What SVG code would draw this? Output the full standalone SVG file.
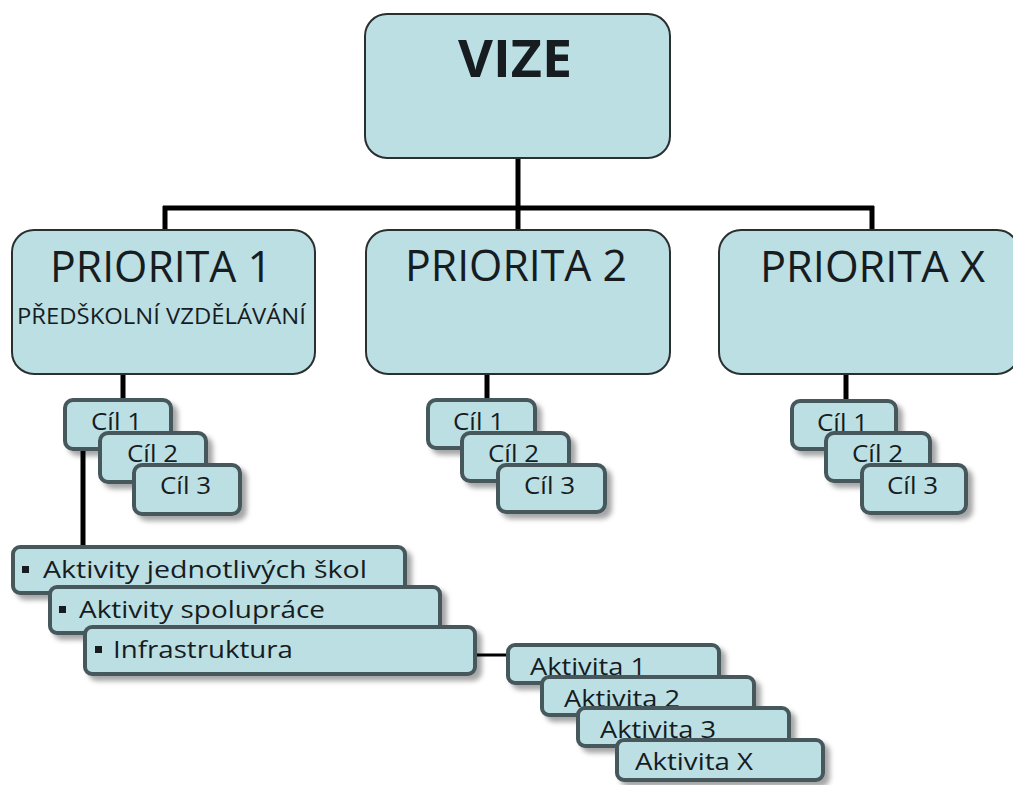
<svg xmlns="http://www.w3.org/2000/svg" width="1013" height="785" viewBox="0 0 1013 785">
<defs>
<filter id="sh" x="-20%" y="-20%" width="150%" height="160%">
<feDropShadow dx="5" dy="5" stdDeviation="2.5" flood-color="#000" flood-opacity="0.35"/>
</filter>
</defs>
<style>
.big{fill:#bcdfe4;stroke:#2a2f30;stroke-width:2}
.sm{fill:#bcdfe4;stroke:#46595d;stroke-width:4;filter:url(#sh)}
.t{font-family:"Open Sans","Liberation Sans",sans-serif;fill:#161c1f}
.ln{stroke:#000;stroke-width:5;fill:none}
.ln2{stroke:#000;stroke-width:3;fill:none}
</style>
<rect width="1013" height="785" fill="#fff"/>
<g id="connectors">
<path class="ln" d="M518 158V208M163 208H874M165 206V231M518 206V231M872 206V231"/>
<path class="ln" d="M123 374V401M487 374V401M846 374V402"/>
<path class="ln" d="M83 449V548"/>
<path class="ln2" d="M475 655H510"/>
</g>
<g id="vize">
<rect class="big" x="365" y="14" width="305" height="144" rx="22"/>
<text class="t" x="458" y="77" font-size="52" font-weight="bold" textLength="114" lengthAdjust="spacingAndGlyphs">VIZE</text>
</g>
<g id="priorita1">
<rect class="big" x="12" y="230" width="303" height="144" rx="22"/>
<text class="t" x="50" y="282" font-size="43" textLength="222" lengthAdjust="spacingAndGlyphs">PRIORITA 1</text>
<text class="t" x="17" y="324" font-size="21" textLength="289" lengthAdjust="spacingAndGlyphs">PŘEDŠKOLNÍ VZDĚLÁVÁNÍ</text>
</g>
<g id="priorita2">
<rect class="big" x="366" y="230" width="304" height="144" rx="22"/>
<text class="t" x="405" y="281" font-size="43" textLength="222" lengthAdjust="spacingAndGlyphs">PRIORITA 2</text>
</g>
<g id="prioritaX">
<rect class="big" x="719" y="230" width="300" height="144" rx="22"/>
<text class="t" x="760" y="282" font-size="43" textLength="225" lengthAdjust="spacingAndGlyphs">PRIORITA X</text>
</g>
<g id="p1-cil1"><rect class="sm" x="65" y="400" width="106" height="49" rx="8"/><text class="t" x="91" y="430" font-size="24" textLength="51" lengthAdjust="spacingAndGlyphs">Cíl 1</text></g>
<g id="p1-cil2"><rect class="sm" x="100" y="433" width="106" height="49" rx="8"/><text class="t" x="127" y="462" font-size="24" textLength="51" lengthAdjust="spacingAndGlyphs">Cíl 2</text></g>
<g id="p1-cil3"><rect class="sm" x="134" y="465" width="106" height="49" rx="8"/><text class="t" x="160" y="494" font-size="24" textLength="51" lengthAdjust="spacingAndGlyphs">Cíl 3</text></g>
<g id="p2-cil1"><rect class="sm" x="428" y="400" width="107" height="48" rx="8"/><text class="t" x="453" y="430" font-size="24" textLength="51" lengthAdjust="spacingAndGlyphs">Cíl 1</text></g>
<g id="p2-cil2"><rect class="sm" x="462" y="433" width="107" height="48" rx="8"/><text class="t" x="488" y="462" font-size="24" textLength="51" lengthAdjust="spacingAndGlyphs">Cíl 2</text></g>
<g id="p2-cil3"><rect class="sm" x="498" y="465" width="107" height="47" rx="8"/><text class="t" x="524" y="494" font-size="24" textLength="51" lengthAdjust="spacingAndGlyphs">Cíl 3</text></g>
<g id="px-cil1"><rect class="sm" x="792" y="401" width="104" height="48" rx="8"/><text class="t" x="817" y="431" font-size="24" textLength="51" lengthAdjust="spacingAndGlyphs">Cíl 1</text></g>
<g id="px-cil2"><rect class="sm" x="826" y="433" width="104" height="48" rx="8"/><text class="t" x="852" y="462" font-size="24" textLength="51" lengthAdjust="spacingAndGlyphs">Cíl 2</text></g>
<g id="px-cil3"><rect class="sm" x="862" y="465" width="104" height="48" rx="8"/><text class="t" x="887" y="494" font-size="24" textLength="51" lengthAdjust="spacingAndGlyphs">Cíl 3</text></g>
<g id="aktivity-skol"><rect class="sm" x="13" y="547" width="392" height="46" rx="7"/><rect x="22" y="566" width="7" height="7" fill="#161c1f"/><text class="t" x="43" y="578" font-size="23" textLength="324" lengthAdjust="spacingAndGlyphs">Aktivity jednotlivých škol</text></g>
<g id="aktivity-spoluprace"><rect class="sm" x="50" y="587" width="390" height="46" rx="7"/><rect x="59" y="606" width="7" height="7" fill="#161c1f"/><text class="t" x="79" y="618" font-size="23" textLength="246" lengthAdjust="spacingAndGlyphs">Aktivity spolupráce</text></g>
<g id="infrastruktura"><rect class="sm" x="85" y="627" width="390" height="47" rx="7"/><rect x="95" y="646" width="7" height="7" fill="#161c1f"/><text class="t" x="113" y="658" font-size="23" textLength="180" lengthAdjust="spacingAndGlyphs">Infrastruktura</text></g>
<g id="aktivita1"><rect class="sm" x="508" y="645" width="211" height="38" rx="7"/><text class="t" x="530" y="675" font-size="24" textLength="116" lengthAdjust="spacingAndGlyphs">Aktivita 1</text></g>
<g id="aktivita2"><rect class="sm" x="542" y="677" width="212" height="38" rx="7"/><text class="t" x="564" y="707" font-size="24" textLength="116" lengthAdjust="spacingAndGlyphs">Aktivita 2</text></g>
<g id="aktivita3"><rect class="sm" x="578" y="708" width="211" height="38" rx="7"/><text class="t" x="600" y="738" font-size="24" textLength="116" lengthAdjust="spacingAndGlyphs">Aktivita 3</text></g>
<g id="aktivitaX"><rect class="sm" x="617" y="740" width="206" height="40" rx="7"/><text class="t" x="635" y="770" font-size="24" textLength="118" lengthAdjust="spacingAndGlyphs">Aktivita X</text></g>
</svg>
